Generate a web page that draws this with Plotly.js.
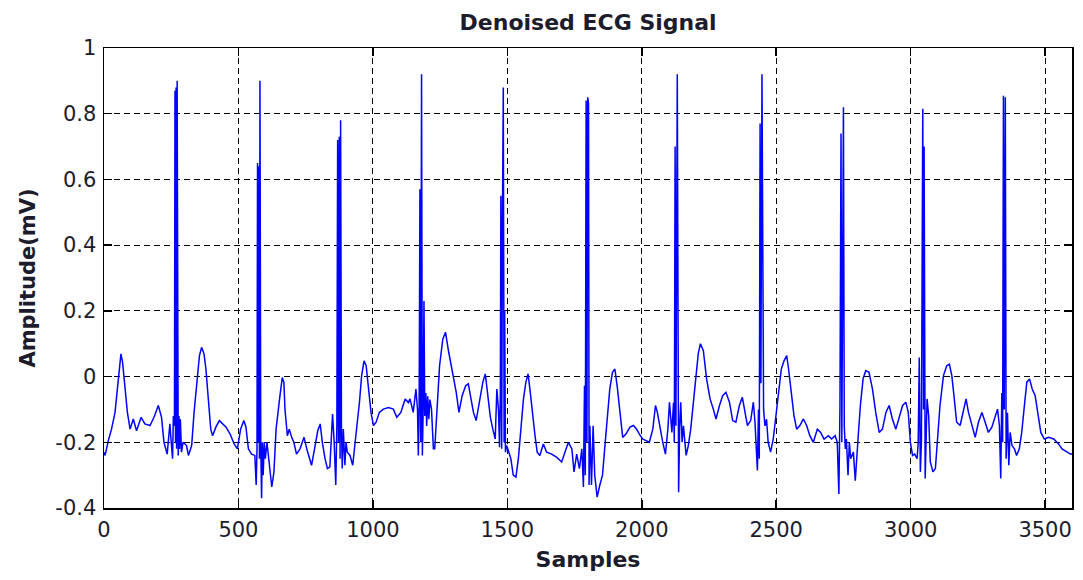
<!DOCTYPE html>
<html>
<head>
<meta charset="utf-8">
<script src="https://cdn.plot.ly/plotly-3.0.1.min.js"></script>
<style>html,body{margin:0;padding:0;background:#fff;}#chart{width:1083px;height:580px;}</style>
</head>
<body>
<div id="chart"></div>
<script>
const samples = [0,4,16,28,41,53,63,69,78,87,97,109,121,138,152,171,186,202,214,223,235,245,250,255,258,262,264,266,268,270,272,274,276,279,281,284,288,294,307,314,326,335,345,355,363,372,379,388,397,404,416,429,441,454,469,484,496,508,520,528,537,549,561,566,569,571,573,576,578,580,583,586,589,592,596,600,606,615,624,632,640,653,663,669,673,682,689,698,706,716,729,744,756,772,785,795,804,812,822,831,840,850,856,862,866,869,872,875,878,880,883,886,890,896,900,905,915,925,934,940,950,958,967,975,983,993,1002,1012,1024,1039,1058,1076,1089,1104,1120,1132,1138,1150,1160,1166,1169,1172,1175,1178,1181,1184,1187,1190,1193,1197,1200,1204,1208,1212,1218,1225,1230,1236,1248,1260,1270,1282,1297,1310,1320,1332,1345,1355,1364,1374,1384,1396,1409,1418,1427,1437,1446,1455,1461,1467,1471,1474,1476,1479,1482,1485,1488,1490,1493,1497,1504,1513,1522,1532,1541,1550,1560,1569,1577,1584,1594,1603,1611,1621,1634,1646,1665,1684,1702,1715,1727,1740,1748,1758,1768,1777,1783,1787,1790,1793,1796,1799,1802,1804,1807,1813,1819,1825,1834,1844,1854,1862,1871,1881,1891,1900,1909,1919,1929,1941,1956,1969,1981,1991,2003,2016,2028,2041,2051,2058,2068,2078,2088,2097,2103,2112,2118,2121,2124,2127,2132,2137,2141,2145,2150,2155,2165,2173,2182,2191,2201,2210,2218,2229,2241,2254,2266,2276,2289,2301,2313,2326,2338,2350,2363,2374,2384,2393,2405,2415,2421,2430,2434,2437,2440,2443,2447,2450,2453,2458,2464,2470,2479,2489,2499,2509,2519,2529,2539,2546,2556,2566,2576,2588,2601,2613,2625,2638,2653,2665,2678,2694,2706,2719,2727,2733,2737,2741,2744,2747,2750,2753,2757,2761,2767,2772,2777,2787,2794,2805,2813,2823,2833,2845,2858,2870,2883,2895,2908,2920,2932,2945,2957,2970,2982,2991,2999,3007,3015,3024,3028,3032,3036,3040,3045,3048,3050,3054,3061,3067,3073,3083,3092,3099,3109,3122,3134,3144,3153,3161,3171,3184,3196,3206,3215,3227,3240,3252,3265,3277,3289,3302,3314,3323,3330,3335,3339,3342,3345,3348,3352,3355,3360,3365,3370,3377,3386,3394,3404,3413,3423,3432,3442,3452,3463,3473,3484,3497,3513,3532,3550,3563,3575,3594,3600];
const amplitude = [-0.23,-0.24,-0.195,-0.16,-0.109,-0.017,0.069,0.044,-0.027,-0.109,-0.16,-0.129,-0.165,-0.124,-0.144,-0.149,-0.124,-0.088,-0.124,-0.2,-0.236,-0.144,-0.2,-0.25,-0.12,-0.15,0.87,-0.2,0.88,-0.22,0.9,-0.15,-0.24,-0.12,-0.22,-0.13,-0.23,-0.2,-0.21,-0.24,-0.21,-0.109,-0.033,0.064,0.089,0.069,0.023,-0.068,-0.16,-0.18,-0.154,-0.134,-0.144,-0.154,-0.175,-0.205,-0.22,-0.16,-0.134,-0.154,-0.22,-0.236,-0.24,-0.33,-0.22,0.65,-0.2,0.64,-0.25,0.9,-0.2,-0.37,-0.2,-0.3,-0.2,-0.25,-0.2,-0.26,-0.336,-0.29,-0.16,-0.068,-0.003,-0.018,-0.099,-0.18,-0.16,-0.185,-0.2,-0.236,-0.22,-0.185,-0.226,-0.27,-0.215,-0.165,-0.144,-0.2,-0.25,-0.28,-0.275,-0.114,-0.2,-0.33,-0.15,0.72,-0.2,0.73,-0.25,0.78,-0.15,-0.28,-0.16,-0.27,-0.2,-0.23,-0.24,-0.27,-0.2,-0.16,-0.079,0.002,0.048,0.033,-0.027,-0.109,-0.149,-0.139,-0.109,-0.099,-0.094,-0.099,-0.124,-0.109,-0.068,-0.079,-0.068,-0.109,-0.038,-0.1,-0.24,-0.1,0.57,-0.2,0.92,-0.24,-0.1,0.23,-0.12,-0.05,-0.15,-0.06,-0.13,-0.07,-0.1,-0.22,-0.22,-0.12,0.033,0.114,0.135,0.074,0.003,-0.048,-0.109,-0.058,-0.028,-0.022,-0.063,-0.109,-0.134,-0.078,-0.017,0.008,-0.048,-0.124,-0.16,-0.19,-0.038,-0.1,-0.215,-0.05,0.55,-0.22,0.5,0.88,-0.2,0.2,-0.23,-0.21,-0.226,-0.25,-0.3,-0.306,-0.25,-0.16,-0.068,-0.017,0.008,-0.038,-0.119,-0.18,-0.23,-0.24,-0.205,-0.23,-0.236,-0.246,-0.26,-0.23,-0.2,-0.22,-0.29,-0.236,-0.28,-0.22,-0.336,-0.028,-0.3,0.84,-0.2,0.85,0.83,-0.33,-0.15,-0.33,-0.15,-0.3,-0.367,-0.33,-0.3,-0.22,-0.119,-0.038,0.013,0.023,-0.033,-0.119,-0.185,-0.175,-0.154,-0.149,-0.16,-0.175,-0.19,-0.195,-0.2,-0.16,-0.088,-0.109,-0.16,-0.2,-0.236,-0.16,-0.078,-0.17,-0.08,-0.2,0.7,-0.15,0.92,-0.352,-0.15,-0.078,-0.2,-0.15,-0.24,-0.21,-0.16,-0.088,0.013,0.069,0.1,0.079,-0.007,-0.068,-0.099,-0.129,-0.088,-0.058,-0.048,-0.078,-0.134,-0.139,-0.088,-0.063,-0.109,-0.149,-0.134,-0.078,-0.139,-0.286,-0.1,-0.25,0.77,-0.02,0.92,-0.01,-0.1,-0.15,-0.13,-0.2,-0.23,-0.19,-0.119,-0.038,0.023,0.048,0.064,0.023,-0.048,-0.119,-0.16,-0.149,-0.129,-0.149,-0.18,-0.2,-0.16,-0.17,-0.19,-0.18,-0.19,-0.18,-0.2,-0.357,-0.1,0.74,-0.2,0.75,0.82,-0.15,-0.22,-0.19,-0.3,-0.2,-0.25,-0.23,-0.317,-0.18,-0.088,-0.007,0.018,0.013,-0.038,-0.109,-0.17,-0.16,-0.109,-0.088,-0.129,-0.16,-0.129,-0.088,-0.078,-0.109,-0.2,-0.24,-0.236,-0.25,-0.2,0.058,-0.29,-0.2,0.815,-0.1,0.7,-0.31,-0.068,-0.12,-0.26,-0.29,-0.28,-0.19,-0.088,0.003,0.033,0.038,0.003,-0.058,-0.139,-0.149,-0.099,-0.068,-0.109,-0.149,-0.185,-0.139,-0.109,-0.139,-0.17,-0.154,-0.119,-0.099,-0.149,-0.31,-0.05,-0.2,0.855,-0.1,0.85,-0.25,-0.11,-0.27,-0.17,-0.21,-0.22,-0.24,-0.22,-0.17,-0.088,-0.017,-0.007,-0.038,-0.058,-0.109,-0.17,-0.19,-0.185,-0.19,-0.205,-0.22,-0.226,-0.236,-0.236];
const xTicks = [0,500,1000,1500,2000,2500,3000,3500];
const yTicks = [-0.4,-0.2,0,0.2,0.4,0.6,0.8,1];
const yTickText = ['-0.4','-0.2','0','0.2','0.4','0.6','0.8','1'];

const font = 'DejaVu Sans, Verdana, sans-serif';
const textColor = '#1c1c2c';
const axisCommon = {
  showline: true, linecolor: '#000', linewidth: 1.5, mirror: 'allticks',
  ticks: 'inside', ticklen: 8, tickcolor: '#000', tickwidth: 1.5,
  showgrid: true, gridcolor: '#000', gridwidth: 1.2, griddash: '6px,4px',
  zeroline: false, tickfont: {family: font, size: 21, color: textColor},
  tickmode: 'array'
};
const layout = {
  width: 1083, height: 580,
  margin: {l: 104, r: 11, t: 48, b: 72},
  paper_bgcolor: '#fff', plot_bgcolor: '#fff',
  showlegend: false,
  title: {text: '<b>Denoised ECG Signal</b>', x: 0.543, xanchor: 'center', y: 0.962, yanchor: 'middle',
          font: {family: font, size: 22, color: textColor}},
  xaxis: Object.assign({}, axisCommon, {
    range: [0, 3600], tickvals: xTicks, ticktext: xTicks.map(String),
    ticklabelstandoff: 2,
    title: {text: '<b>Samples</b>', standoff: 11, font: {family: font, size: 22, color: textColor}}
  }),
  yaxis: Object.assign({}, axisCommon, {
    range: [-0.4, 1], tickvals: yTicks, ticktext: yTickText,
    ticklabelstandoff: 2,
    title: {text: '<b>Amplitude(mV)</b>', standoff: 14, font: {family: font, size: 21, color: textColor}}
  })
};
const trace = {
  x: samples, y: amplitude, type: 'scatter', mode: 'lines',
  line: {color: '#0000ff', width: 1.5}, hoverinfo: 'x+y'
};
Plotly.newPlot('chart', [trace], layout, {displayModeBar: false, staticPlot: true});
</script>
</body>
</html>
